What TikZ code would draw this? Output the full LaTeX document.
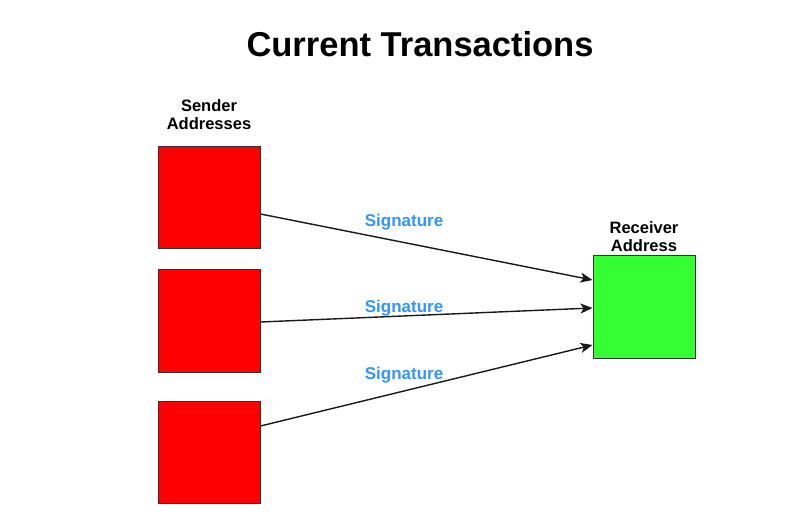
\documentclass[tikz,border=0pt]{standalone}
\usepackage{fontspec}
\setmainfont{Liberation Sans}
\usetikzlibrary{arrows.meta}
\definecolor{sigblue}{RGB}{51,150,250}
\definecolor{sendred}{RGB}{255,0,0}
\definecolor{recvgreen}{RGB}{51,255,51}
\begin{document}
\begin{tikzpicture}[x=1pt,y=1pt,
  addrbox/.style={draw=black!80, line width=1pt, minimum width=102pt, minimum height=102pt, inner sep=0pt},
  sender/.style={addrbox, fill=sendred},
  receiver/.style={addrbox, fill=recvgreen},
  caption/.style={font=\bfseries\fontsize{16.5}{18.5}\selectfont, align=center, inner sep=0pt, anchor=south},
  siglabel/.style={font=\bfseries\fontsize{17}{19}\selectfont, text=sigblue, inner sep=0pt, anchor=base},
  flow/.style={line width=1.4pt, draw=black!90, -{Stealth[length=12pt,width=10pt,inset=3pt]}}]
\useasboundingbox (0,0) rectangle (800,528);
\fill[white] (0,0) rectangle (800,528);
\node[font=\bfseries\fontsize{34.5}{38}\selectfont, inner sep=0pt, anchor=base] (title) at (420,471) {Current Transactions};
\node[caption] (sendcap) at (209,398) {Sender\\Addresses};
\node[caption] (recvcap) at (644,276) {Receiver\\Address};
\node[sender] (r1) at (209,330) {};
\node[sender] (r2) at (209,207) {};
\node[sender] (r3) at (209,76) {};
\node[receiver] (g) at (644,221) {};
\coordinate (s1) at ([yshift=-16pt]r1.east);
\coordinate (s2) at ([yshift=-1pt]r2.east);
\coordinate (s3) at ([yshift=26pt]r3.east);
\coordinate (e1) at ([yshift=27pt]g.west);
\coordinate (e2) at ([yshift=-1pt]g.west);
\coordinate (e3) at ([yshift=-38pt]g.west);
\draw[flow] (s1) -- (e1);
\draw[flow] (s2) -- (e2);
\draw[flow] (s3) -- (e3);
\node[siglabel] (sig1) at (404,301) {Signature};
\node[siglabel] (sig2) at (404,215) {Signature};
\node[siglabel] (sig3) at (404,149) {Signature};
\end{tikzpicture}
\end{document}
